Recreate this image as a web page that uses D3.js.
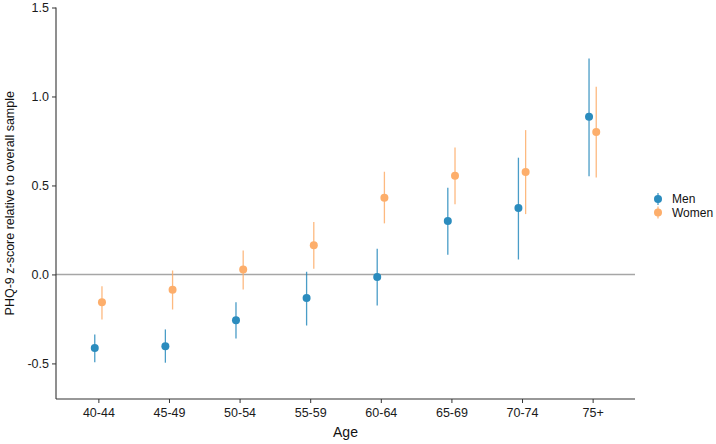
<!DOCTYPE html>
<html>
<head>
<meta charset="utf-8">
<script src="https://cdn.jsdelivr.net/npm/d3@7"></script>
<style>
  body { margin: 0; background: #fff; }
  svg { font-family: "Liberation Sans", Arial, sans-serif; }
</style>
</head>
<body>
<div id="chart"></div>
<script>
var ages = ["40-44", "45-49", "50-54", "55-59", "60-64", "65-69", "70-74", "75+"];

var menEst = [-0.414, -0.403, -0.258, -0.133, -0.015, 0.300, 0.373, 0.886];
var menLo  = [-0.493, -0.496, -0.360, -0.287, -0.174, 0.110, 0.084, 0.552];
var menHi  = [-0.337, -0.309, -0.157, 0.015, 0.144, 0.487, 0.656, 1.213];

var womenEst = [-0.157, -0.086, 0.028, 0.164, 0.431, 0.554, 0.575, 0.800];
var womenLo  = [-0.253, -0.197, -0.084, 0.032, 0.287, 0.395, 0.339, 0.545];
var womenHi  = [-0.067, 0.022, 0.135, 0.294, 0.577, 0.713, 0.811, 1.054];

var yTicks = [-0.5, 0.0, 0.5, 1.0, 1.5];

var series = [
  {name: "Men", color: "#2b8cbe", est: menEst, lo: menLo, hi: menHi, dx: -3.6},
  {name: "Women", color: "#fdae6b", est: womenEst, lo: womenLo, hi: womenHi, dx: 3.6}
];

var W = 716, H = 444;
var margin = {top: 7.5, left: 56, right: 81, bottom: 45};

var svg = d3.select("#chart").append("svg")
  .attr("width", W).attr("height", H);

// discrete axis with ggplot-like 0.6 expansion on each side
var x = d3.scalePoint()
  .domain(ages)
  .range([margin.left, W - margin.right])
  .padding(0.6);

var y = d3.scaleLinear()
  .domain([-0.7, 1.5])
  .range([H - margin.bottom, margin.top]);

// reference line at zero
svg.append("line")
  .attr("x1", margin.left).attr("x2", W - margin.right)
  .attr("y1", y(0)).attr("y2", y(0))
  .style("stroke", "#a6a6a6")
  .style("stroke-width", 1.4);

// error bars + points
series.forEach(function(s) {
  var g = svg.append("g");
  g.selectAll("line")
    .data(ages).enter()
    .append("line")
    .attr("x1", function(d) { return x(d) + s.dx; })
    .attr("x2", function(d) { return x(d) + s.dx; })
    .attr("y1", function(d, i) { return y(s.lo[i]); })
    .attr("y2", function(d, i) { return y(s.hi[i]); })
    .style("stroke", s.color)
    .style("stroke-width", 1.3)
    .style("opacity", 0.85);
  g.selectAll("circle")
    .data(ages).enter()
    .append("circle")
    .attr("cx", function(d) { return x(d) + s.dx; })
    .attr("cy", function(d, i) { return y(s.est[i]); })
    .attr("r", 4)
    .style("fill", s.color);
});

// axes
var fmt = function(d) { return d3.format(".1f")(d).replace("\u2212", "-"); };
var xAxis = svg.append("g")
  .attr("transform", "translate(0," + (H - margin.bottom) + ")")
  .call(d3.axisBottom(x).tickSize(4).tickPadding(5));
var yAxis = svg.append("g")
  .attr("transform", "translate(" + margin.left + ",0)")
  .call(d3.axisLeft(y).tickValues(yTicks).tickSize(4).tickPadding(3)
    .tickFormat(fmt));

[xAxis, yAxis].forEach(function(a) {
  a.select(".domain").style("stroke", "#333").style("stroke-width", 1.1);
  a.selectAll(".tick line").style("stroke", "#333");
  a.selectAll(".tick text").style("fill", "#1a1a1a").style("font-size", "12.5px");
});
xAxis.select(".domain").attr("d", "M" + margin.left + ",0H" + (W - margin.right));
yAxis.select(".domain").attr("d", "M0," + (H - margin.bottom) + "V" + margin.top);

// axis titles
svg.append("text")
  .attr("x", (margin.left + W - margin.right) / 2)
  .attr("y", 437)
  .attr("text-anchor", "middle")
  .style("font-size", "14px")
  .style("fill", "#111")
  .text("Age");

svg.append("text")
  .attr("transform", "translate(10," + ((margin.top + H - margin.bottom) / 2) + ") rotate(-90)")
  .attr("text-anchor", "middle")
  .attr("dy", "0.35em")
  .style("font-size", "12.5px")
  .style("fill", "#111")
  .text("PHQ-9 z-score relative to overall sample");

// legend
var legend = svg.append("g").attr("transform", "translate(658,199)");
series.forEach(function(s, i) {
  var row = legend.append("g").attr("transform", "translate(0," + (i * 13.5) + ")");
  row.append("line")
    .attr("y1", -6).attr("y2", 6)
    .style("stroke", s.color).style("stroke-width", 1.3).style("opacity", 0.85);
  row.append("circle").attr("r", 4).style("fill", s.color);
  row.append("text")
    .attr("x", 14).attr("dy", "0.35em")
    .style("font-size", "12px")
    .style("fill", "#111")
    .text(s.name);
});
</script>
</body>
</html>
